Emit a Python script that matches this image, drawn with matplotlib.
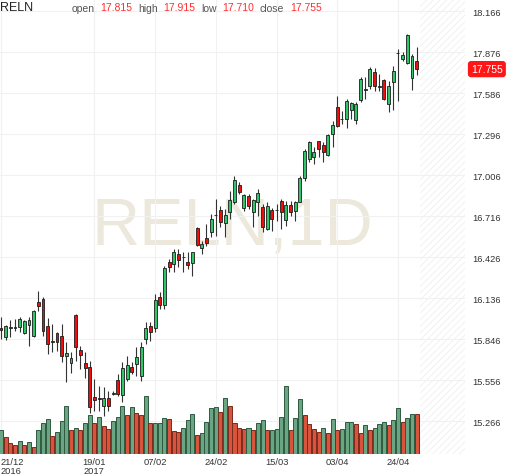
import matplotlib
matplotlib.use('Agg')
import matplotlib.pyplot as plt
import matplotlib.transforms as mtransforms

plt.rcParams['font.family'] = ['Liberation Sans', 'DejaVu Sans']
plt.rcParams['hatch.linewidth'] = 0.5

symbol = 'RELN'
interval = '1D'

# daily candles, 21/12/2016 .. 28/04/2017
opens = [15.926, 15.858, 15.922, 15.926, 15.929, 15.891, 15.943, 15.865, 16.106, 16.129,
         15.940, 15.823, 15.887, 15.865, 15.724, 15.674, 16.018, 15.768, 15.674, 15.646,
         15.436, 15.429, 15.374, 15.429, 15.457, 15.558, 15.450, 15.563, 15.648, 15.669,
         15.584, 15.846, 15.938, 15.922, 16.141, 16.087, 16.391, 16.377, 16.447, 16.424,
         16.389, 16.384, 16.631, 16.490, 16.561, 16.605, 16.721, 16.761, 16.667, 16.742,
         16.813, 16.938, 16.771, 16.856, 16.747, 16.813, 16.778, 16.624, 16.759, 16.756,
         16.824, 16.688, 16.794, 16.754, 16.817, 16.983, 17.119, 17.131, 17.245, 17.220,
         17.148, 17.296, 17.489, 17.400, 17.402, 17.468, 17.397, 17.535, 17.607, 17.634,
         17.733, 17.631, 17.678, 17.506, 17.666, 17.866, 17.827, 17.796, 17.690, 17.815]
closes = [15.912, 15.938, 15.933, 15.933, 15.986, 15.971, 15.981, 16.042, 16.080, 15.905,
          15.811, 15.830, 15.827, 15.724, 15.747, 15.710, 15.792, 15.733, 15.641, 15.367,
          15.417, 15.420, 15.429, 15.372, 15.464, 15.457, 15.639, 15.662, 15.613, 15.719,
          15.790, 15.924, 15.898, 16.124, 16.087, 16.348, 16.355, 16.464, 16.407, 16.426,
          16.370, 16.462, 16.511, 16.518, 16.525, 16.695, 16.723, 16.676, 16.723, 16.831,
          16.971, 16.888, 16.865, 16.785, 16.829, 16.877, 16.636, 16.789, 16.695, 16.759,
          16.747, 16.794, 16.747, 16.813, 16.983, 17.178, 17.237, 17.171, 17.190, 17.171,
          17.289, 17.360, 17.351, 17.402, 17.527, 17.513, 17.508, 17.685, 17.609, 17.756,
          17.634, 17.633, 17.544, 17.634, 17.740, 17.868, 17.857, 17.996, 17.850, 17.755]
highs = [16.000, 15.947, 15.983, 15.988, 16.000, 15.983, 16.000, 16.051, 16.184, 16.145,
         15.993, 15.952, 15.894, 15.952, 15.823, 15.752, 16.025, 15.799, 15.752, 15.693,
         15.563, 15.516, 15.507, 15.480, 15.480, 15.599, 15.686, 15.728, 15.684, 15.790,
         15.825, 15.966, 15.969, 16.165, 16.179, 16.365, 16.412, 16.483, 16.483, 16.462,
         16.462, 16.464, 16.638, 16.541, 16.660, 16.730, 16.836, 16.789, 16.766, 16.895,
         17.001, 16.955, 16.872, 16.872, 16.836, 16.907, 16.801, 16.813, 16.771, 16.801,
         16.836, 16.824, 16.824, 16.824, 17.001, 17.190, 17.249, 17.204, 17.249, 17.237,
         17.296, 17.390, 17.567, 17.461, 17.544, 17.525, 17.520, 17.697, 17.697, 17.772,
         17.763, 17.721, 17.685, 17.673, 17.779, 17.897, 17.874, 18.003, 17.862, 17.915]
lows = [15.846, 15.839, 15.858, 15.905, 15.894, 15.882, 15.799, 15.858, 16.046, 15.870,
        15.740, 15.752, 15.763, 15.681, 15.544, 15.604, 15.693, 15.634, 15.570, 15.323,
        15.339, 15.339, 15.304, 15.339, 15.450, 15.445, 15.401, 15.551, 15.599, 15.587,
        15.551, 15.811, 15.834, 15.898, 16.058, 16.058, 16.320, 16.320, 16.355, 16.320,
        16.341, 16.292, 16.504, 16.447, 16.504, 16.568, 16.577, 16.636, 16.566, 16.695,
        16.801, 16.872, 16.754, 16.766, 16.636, 16.718, 16.601, 16.620, 16.612, 16.683,
        16.624, 16.648, 16.718, 16.683, 16.813, 16.966, 17.096, 17.084, 17.131, 17.096,
        17.141, 17.202, 17.344, 17.367, 17.339, 17.402, 17.367, 17.520, 17.544, 17.614,
        17.602, 17.602, 17.537, 17.450, 17.466, 17.532, 17.815, 17.791, 17.607, 17.710]

# volume in thousands, and whether the volume bar is drawn green
volumes = [1200, 865, 535, 450, 650, 450, 615, 365, 1200, 1535,
           1735, 900, 1085, 1665, 2400, 1200, 1285, 1200, 1535, 1950,
           1565, 1865, 1400, 1235, 1650, 1865, 2415, 1950, 2365, 2035,
           1950, 2900, 1535, 1535, 1565, 1785, 1735, 1150, 1085, 1315,
           1700, 2000, 950, 1035, 1615, 2285, 2340, 2085, 2785, 2415,
           1535, 1315, 1235, 1285, 1200, 1535, 1700, 1200, 1200, 1235,
           1865, 3415, 1200, 1785, 2750, 1950, 1485, 1235, 1115, 1315,
           1065, 1735, 1200, 1235, 1585, 1615, 1485, 1065, 1450, 1200,
           1315, 1485, 1615, 1450, 1700, 2285, 1585, 1785, 2000, 2000]
volume_up = [1, 0, 0, 0, 1, 0, 1, 0, 1, 1,
             1, 0, 1, 1, 1, 0, 1, 0, 1, 1,
             0, 1, 0, 0, 1, 1, 1, 0, 1, 0,
             0, 1, 0, 1, 1, 1, 0, 0, 0, 1,
             1, 1, 0, 1, 1, 1, 1, 0, 1, 0,
             0, 0, 0, 1, 0, 1, 1, 0, 1, 1,
             1, 1, 0, 1, 1, 0, 0, 0, 0, 1,
             0, 1, 0, 1, 1, 1, 0, 0, 1, 0,
             1, 1, 1, 0, 1, 1, 0, 1, 1, 0]

date_tick_pos = [0, 20, 33, 46, 59, 72, 85]
date_tick_labels = ['21/12\n2016', '19/01\n2017', '07/02', '24/02', '15/03', '03/04', '24/04']
price_ticks = [15.266, 15.556, 15.846, 16.136, 16.426, 16.716, 17.006, 17.296, 17.586, 17.876, 18.166]

up_col = '#2fc56a'
down_col = '#f20d0d'
vol_up_col = '#6aa683'
vol_down_col = '#d9543c'

fig = plt.figure(figsize=(5.12, 4.77), dpi=100)
rect = [0, 22 / 477, 465 / 512, 455 / 477]
ax = fig.add_axes(rect, zorder=1)
vax = fig.add_axes(rect, zorder=2)
vax.patch.set_alpha(0)

n = len(opens)
xs = list(range(n))
xmin, xmax = -0.214, 99.36

# future area on the right
ax.axvspan(n - 0.3, xmax, facecolor='white', edgecolor='#ededed', hatch='/' * 5, lw=0, zorder=0)

# watermark
ax.text(0.5, 0.5, symbol + ',' + interval, transform=ax.transAxes, ha='center', va='center',
        fontsize=48, color='#ece8dc', zorder=0.5)

# candles
ax.vlines(xs, lows, highs, color='#333333', lw=0.8, zorder=2)
bottoms = [min(o, c) for o, c in zip(opens, closes)]
heights = [max(abs(c - o), 0.005) for o, c in zip(opens, closes)]
colors = [up_col if c >= o else down_col for o, c in zip(opens, closes)]
ax.bar(xs, heights, bottom=bottoms, width=0.62, color=colors, edgecolor='#1c1c1c', lw=0.6, zorder=3)

ax.set_xlim(xmin, xmax)
ax.set_ylim(15.033, 18.251)
ax.set_yticks(price_ticks)
ax.set_yticklabels(['%.3f' % p for p in price_ticks])
ax.yaxis.tick_right()
ax.set_xticks(date_tick_pos)
ax.set_xticklabels(date_tick_labels, linespacing=1.0)
ax.get_xticklabels()[0].set_ha('left')
ax.tick_params(length=0, labelsize=6.7, colors='#333333')
ax.tick_params(axis='y', pad=5)
ax.tick_params(axis='x', pad=2)
ax.grid(True, color='#f1f1f1', lw=0.8)
for s in ax.spines.values():
    s.set_visible(False)

# volume
vcolors = [vol_up_col if u else vol_down_col for u in volume_up]
vedges = ['#2e5a40' if u else '#7a2a1c' for u in volume_up]
vax.bar(xs, volumes, width=0.86, color=vcolors, edgecolor=vedges, lw=0.7)
vax.set_xlim(xmin, xmax)
vax.set_ylim(0, max(volumes) * 6.66)
vax.axis('off')

# last price tag
trans = mtransforms.blended_transform_factory(ax.transAxes, ax.transData)
ax.text(1.0 + 6 / 465, closes[-1], '%.3f' % closes[-1], transform=trans, ha='left', va='center',
        fontsize=7.5, color='white', zorder=5,
        bbox=dict(boxstyle='round,pad=0.3', fc='#ff1616', ec='none'))

# header
fig.text(0.0, 1 - 8 / 477, symbol, fontsize=9, color='#222222', va='center', ha='left')
header = [('open', opens[-1]), ('high', highs[-1]), ('low', lows[-1]), ('close', closes[-1])]
label_x = [72, 138, 201, 260]
value_x = [100, 163, 222, 290]
for (name, val), lx, vx in zip(header, label_x, value_x):
    fig.text(lx / 512, 1 - 8.5 / 477, name, fontsize=7.5, color='#555555', va='center', ha='left')
    fig.text(vx / 512, 1 - 8 / 477, '%.3f' % val, fontsize=7.5, color='#ff2d2d', va='center', ha='left')

fig.savefig('out.png', dpi=100)
